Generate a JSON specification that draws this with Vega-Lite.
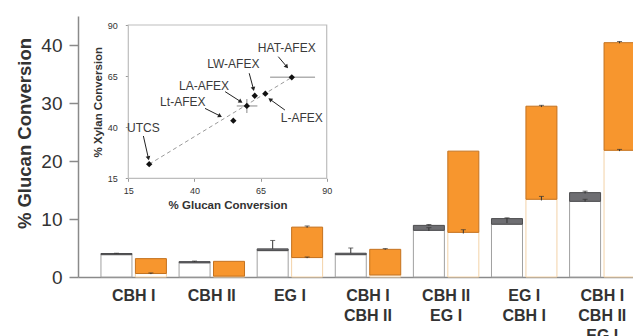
{
  "$schema": "https://vega.github.io/schema/vega-lite/v6.json",
  "width": 555,
  "height": 261,
  "autosize": "none",
  "padding": {"left": 78, "top": 16, "right": 0, "bottom": 59},
  "background": "white",
  "config": {
    "view": {"stroke": null},
    "font": "Liberation Sans",
    "axis": {"grid": false, "labelFont": "Liberation Sans", "titleFont": "Liberation Sans"}
  },
  "datasets": {
    "bars": [
      {"cat": "CBH I", "series": "UTCS", "seg": "UTCS base", "value": 3.85},
      {"cat": "CBH I", "series": "UTCS", "seg": "UTCS top", "value": 0.2},
      {"cat": "CBH I", "series": "AFEX", "seg": "AFEX base", "value": 0.6},
      {"cat": "CBH I", "series": "AFEX", "seg": "AFEX top", "value": 2.57},
      {"cat": "CBH II", "series": "UTCS", "seg": "UTCS base", "value": 2.45},
      {"cat": "CBH II", "series": "UTCS", "seg": "UTCS top", "value": 0.2},
      {"cat": "CBH II", "series": "AFEX", "seg": "AFEX base", "value": 0.15},
      {"cat": "CBH II", "series": "AFEX", "seg": "AFEX top", "value": 2.55},
      {"cat": "EG I", "series": "UTCS", "seg": "UTCS base", "value": 4.55},
      {"cat": "EG I", "series": "UTCS", "seg": "UTCS top", "value": 0.3},
      {"cat": "EG I", "series": "AFEX", "seg": "AFEX base", "value": 3.35},
      {"cat": "EG I", "series": "AFEX", "seg": "AFEX top", "value": 5.25},
      {"cat": "CBH I/CBH II", "series": "UTCS", "seg": "UTCS base", "value": 3.85},
      {"cat": "CBH I/CBH II", "series": "UTCS", "seg": "UTCS top", "value": 0.25},
      {"cat": "CBH I/CBH II", "series": "AFEX", "seg": "AFEX base", "value": 0.35},
      {"cat": "CBH I/CBH II", "series": "AFEX", "seg": "AFEX top", "value": 4.42},
      {"cat": "CBH II/EG I", "series": "UTCS", "seg": "UTCS base", "value": 8.05},
      {"cat": "CBH II/EG I", "series": "UTCS", "seg": "UTCS top", "value": 0.85},
      {"cat": "CBH II/EG I", "series": "AFEX", "seg": "AFEX base", "value": 7.7},
      {"cat": "CBH II/EG I", "series": "AFEX", "seg": "AFEX top", "value": 14.0},
      {"cat": "EG I/CBH I", "series": "UTCS", "seg": "UTCS base", "value": 9.1},
      {"cat": "EG I/CBH I", "series": "UTCS", "seg": "UTCS top", "value": 0.97},
      {"cat": "EG I/CBH I", "series": "AFEX", "seg": "AFEX base", "value": 13.4},
      {"cat": "EG I/CBH I", "series": "AFEX", "seg": "AFEX top", "value": 16.05},
      {"cat": "CBH I/CBH II/EG I", "series": "UTCS", "seg": "UTCS base", "value": 13.05},
      {"cat": "CBH I/CBH II/EG I", "series": "UTCS", "seg": "UTCS top", "value": 1.5},
      {"cat": "CBH I/CBH II/EG I", "series": "AFEX", "seg": "AFEX base", "value": 21.85},
      {"cat": "CBH I/CBH II/EG I", "series": "AFEX", "seg": "AFEX top", "value": 18.55}
    ],
    "errs": [
      {"cat": "CBH I", "series": "UTCS", "lo": 4.0, "hi": 4.1},
      {"cat": "CBH I", "series": "AFEX", "lo": 0.5, "hi": 0.7},
      {"cat": "CBH II", "series": "UTCS", "lo": 2.6, "hi": 2.75},
      {"cat": "EG I", "series": "UTCS", "lo": 4.85, "hi": 6.3},
      {"cat": "EG I", "series": "AFEX", "lo": 3.25, "hi": 3.45},
      {"cat": "EG I", "series": "AFEX", "lo": 8.5, "hi": 8.8},
      {"cat": "CBH I/CBH II", "series": "UTCS", "lo": 4.1, "hi": 5.0},
      {"cat": "CBH I/CBH II", "series": "AFEX", "lo": 4.7, "hi": 4.9},
      {"cat": "CBH II/EG I", "series": "UTCS", "lo": 7.95, "hi": 8.5},
      {"cat": "CBH II/EG I", "series": "UTCS", "lo": 8.85, "hi": 9.05},
      {"cat": "CBH II/EG I", "series": "AFEX", "lo": 7.5, "hi": 8.15},
      {"cat": "EG I/CBH I", "series": "UTCS", "lo": 9.3, "hi": 10.2},
      {"cat": "EG I/CBH I", "series": "AFEX", "lo": 13.2, "hi": 13.9},
      {"cat": "EG I/CBH I", "series": "AFEX", "lo": 29.3, "hi": 29.6},
      {"cat": "CBH I/CBH II/EG I", "series": "UTCS", "lo": 13.0, "hi": 13.4},
      {"cat": "CBH I/CBH II/EG I", "series": "UTCS", "lo": 14.4, "hi": 14.8},
      {"cat": "CBH I/CBH II/EG I", "series": "AFEX", "lo": 21.7, "hi": 22.0},
      {"cat": "CBH I/CBH II/EG I", "series": "AFEX", "lo": 40.3, "hi": 40.6}
    ],
    "scatter": [
      {"name": "UTCS", "glucan": 22.9, "xylan": 21.9},
      {"name": "Lt-AFEX", "glucan": 54.7, "xylan": 43.2},
      {"name": "LA-AFEX", "glucan": 59.8, "xylan": 50.4},
      {"name": "LW-AFEX", "glucan": 62.8, "xylan": 55.4},
      {"name": "L-AFEX", "glucan": 66.8, "xylan": 56.4},
      {"name": "HAT-AFEX", "glucan": 76.8, "xylan": 64.4}
    ],
    "trend": [
      {"glucan": 22.9, "xylan": 21.9},
      {"glucan": 76.8, "xylan": 64.4}
    ],
    "scattererr": [
      {"name": "LA-AFEX", "glucan": 56.0, "glucan2": 63.8, "xylan": 50.4, "xylan2": 50.4},
      {"name": "LA-AFEX", "glucan": 59.8, "glucan2": 59.8, "xylan": 47.0, "xylan2": 53.8},
      {"name": "HAT-AFEX", "glucan": 68.6, "glucan2": 85.6, "xylan": 64.4, "xylan2": 64.4}
    ],
    "arrows": [
      {"name": "HAT-AFEX", "glucan": 71.7, "xylan": 74.5, "glucan2": 74.9, "xylan2": 69.6, "angle": 140},
      {"name": "LW-AFEX", "glucan": 60.7, "xylan": 66.4, "glucan2": 62.3, "xylan2": 58.7, "angle": 166},
      {"name": "LA-AFEX", "glucan": 51.6, "xylan": 57.4, "glucan2": 57.5, "xylan2": 52.5, "angle": 122},
      {"name": "Lt-AFEX", "glucan": 44.0, "xylan": 49.2, "glucan2": 49.7, "xylan2": 45.5, "angle": 117},
      {"name": "L-AFEX", "glucan": 74.2, "xylan": 48.4, "glucan2": 68.6, "xylan2": 53.6, "angle": 305},
      {"name": "UTCS", "glucan": 20.7, "xylan": 35.7, "glucan2": 22.6, "xylan2": 24.8, "angle": 167}
    ],
    "labels": [
      {"name": "HAT-AFEX", "glucan": 74.9, "xylan": 78.6},
      {"name": "LW-AFEX", "glucan": 54.7, "xylan": 70.9},
      {"name": "LA-AFEX", "glucan": 43.6, "xylan": 60.2},
      {"name": "Lt-AFEX", "glucan": 35.6, "xylan": 52.5},
      {"name": "L-AFEX", "glucan": 80.6, "xylan": 44.4},
      {"name": "UTCS", "glucan": 20.7, "xylan": 39.5}
    ]
  },
  "layer": [
    {
      "encoding": {
        "x": {
          "field": "cat", "type": "nominal", "sort": null, "title": null,
          "scale": {"range": [0, 580], "paddingInner": 0.162, "paddingOuter": 0.294},
          "axis": {
            "orient": "bottom", "domainColor": "#8a8a8a", "domainWidth": 1.5, "ticks": false,
            "labelFontSize": 16, "labelFontWeight": "bold", "labelColor": "#333333",
            "labelPadding": 10, "labelLineHeight": 20, "labelAngle": 0, "labelLimit": 0,
            "labelExpr": "split(datum.label, '/')"
          }
        },
        "xOffset": {"field": "series", "type": "nominal", "sort": ["UTCS", "AFEX"], "scale": {"paddingInner": 0.1, "paddingOuter": 0}}
      },
      "layer": [
        {
          "data": {"name": "bars"},
          "mark": {"type": "bar", "strokeWidth": 1},
          "encoding": {
            "y": {
              "field": "value", "type": "quantitative", "stack": "zero", "title": "% Glucan Conversion",
              "scale": {"domain": [0, 45], "nice": false},
              "axis": {
                "values": [0, 10, 20, 30, 40], "domainColor": "#8a8a8a", "domainWidth": 1.5,
                "tickColor": "#8a8a8a", "tickSize": 9, "tickWidth": 1.5,
                "labelFontSize": 19, "labelColor": "#333333", "labelPadding": 7,
                "titleFontSize": 18.5, "titleFontWeight": "bold", "titleColor": "#333333",
                "titlePadding": 6, "titleY": 117
              }
            },
            "fill": {"field": "seg", "type": "nominal", "legend": null,
              "scale": {"domain": ["UTCS base", "UTCS top", "AFEX base", "AFEX top"], "range": ["#ffffff", "#6e6e72", "#ffffff", "#f7962e"]}},
            "stroke": {"field": "seg", "type": "nominal", "legend": null,
              "scale": {"domain": ["UTCS base", "UTCS top", "AFEX base", "AFEX top"], "range": ["#a0a0a0", "#4c4c4e", "#f3d3a8", "#c4721f"]}},
            "order": {"field": "seg", "sort": "ascending"}
          }
        },
        {
          "data": {"name": "errs"},
          "mark": {"type": "rule", "color": "#333333", "strokeWidth": 1},
          "encoding": {
            "y": {"field": "lo", "type": "quantitative", "title": "% Glucan Conversion"},
            "y2": {"field": "hi"}
          }
        },
        {
          "data": {"name": "errs"},
          "mark": {"type": "tick", "color": "#333333", "thickness": 1, "size": 5},
          "encoding": {
            "y": {"field": "hi", "type": "quantitative", "title": "% Glucan Conversion"}
          }
        }
      ]
    },
    {
      "layer": [
        {
          "data": {"values": [{}]},
          "mark": {"type": "rect", "fill": "#ffffff", "stroke": "#bdbdbd", "strokeWidth": 1.2},
          "encoding": {
            "x": {"datum": 15, "type": "quantitative", "title": "% Glucan Conversion",
              "scale": {"domain": [15, 90], "nice": false, "zero": false, "range": [50.3, 248.7]},
              "axis": {
                "orient": "bottom", "offset": -98.7, "values": [15, 40, 65, 90], "domain": false,
                "tickColor": "#999999", "tickSize": 3, "labelFontSize": 9, "labelColor": "#333333",
                "labelPadding": 5, "labelFlush": false, "titleFontSize": 11.5, "titleFontWeight": "bold",
                "titleColor": "#333333", "titlePadding": 4
              }},
            "x2": {"datum": 90},
            "y": {"datum": 15, "type": "quantitative", "title": "% Xylan Conversion",
              "scale": {"domain": [15, 90], "nice": false, "zero": false, "range": [162.3, 9]},
              "axis": {
                "orient": "left", "offset": -50.3, "values": [15, 40, 65, 90], "domain": false,
                "tickColor": "#999999", "tickSize": 3, "labelFontSize": 9, "labelColor": "#333333",
                "labelPadding": 8, "labelFlush": false, "titleFontSize": 11.5, "titleFontWeight": "bold",
                "titleColor": "#333333", "titlePadding": 4
              }},
            "y2": {"datum": 90}
          }
        },
        {
          "data": {"name": "trend"},
          "mark": {"type": "line", "color": "#9a9a9a", "strokeWidth": 1, "strokeDash": [4, 3]},
          "encoding": {
            "x": {"field": "glucan", "type": "quantitative", "title": "% Glucan Conversion"},
            "y": {"field": "xylan", "type": "quantitative", "title": "% Xylan Conversion"}
          }
        },
        {
          "data": {"name": "scattererr"},
          "mark": {"type": "rule", "color": "#b0b0b0", "strokeWidth": 1.5},
          "encoding": {
            "x": {"field": "glucan", "type": "quantitative", "title": "% Glucan Conversion"},
            "x2": {"field": "glucan2"},
            "y": {"field": "xylan", "type": "quantitative", "title": "% Xylan Conversion"},
            "y2": {"field": "xylan2"}
          }
        },
        {
          "data": {"name": "scatter"},
          "mark": {"type": "point", "shape": "diamond", "filled": true, "color": "#111111", "size": 40, "opacity": 1},
          "encoding": {
            "x": {"field": "glucan", "type": "quantitative", "title": "% Glucan Conversion"},
            "y": {"field": "xylan", "type": "quantitative", "title": "% Xylan Conversion"}
          }
        },
        {
          "data": {"name": "arrows"},
          "mark": {"type": "rule", "color": "#222222", "strokeWidth": 1},
          "encoding": {
            "x": {"field": "glucan", "type": "quantitative", "title": "% Glucan Conversion"},
            "x2": {"field": "glucan2"},
            "y": {"field": "xylan", "type": "quantitative", "title": "% Xylan Conversion"},
            "y2": {"field": "xylan2"}
          }
        },
        {
          "data": {"name": "arrows"},
          "mark": {"type": "point", "shape": "triangle-up", "filled": true, "color": "#222222", "size": 22, "opacity": 1},
          "encoding": {
            "x": {"field": "glucan2", "type": "quantitative", "title": "% Glucan Conversion"},
            "y": {"field": "xylan2", "type": "quantitative", "title": "% Xylan Conversion"},
            "angle": {"field": "angle", "type": "quantitative", "scale": null}
          }
        },
        {
          "data": {"name": "labels"},
          "mark": {"type": "text", "fontSize": 12, "color": "#3a3a3a", "font": "Liberation Sans"},
          "encoding": {
            "x": {"field": "glucan", "type": "quantitative", "title": "% Glucan Conversion"},
            "y": {"field": "xylan", "type": "quantitative", "title": "% Xylan Conversion"},
            "text": {"field": "name"}
          }
        }
      ]
    }
  ],
  "resolve": {
    "scale": {"x": "independent", "y": "independent"},
    "axis": {"x": "independent", "y": "independent"}
  }
}
